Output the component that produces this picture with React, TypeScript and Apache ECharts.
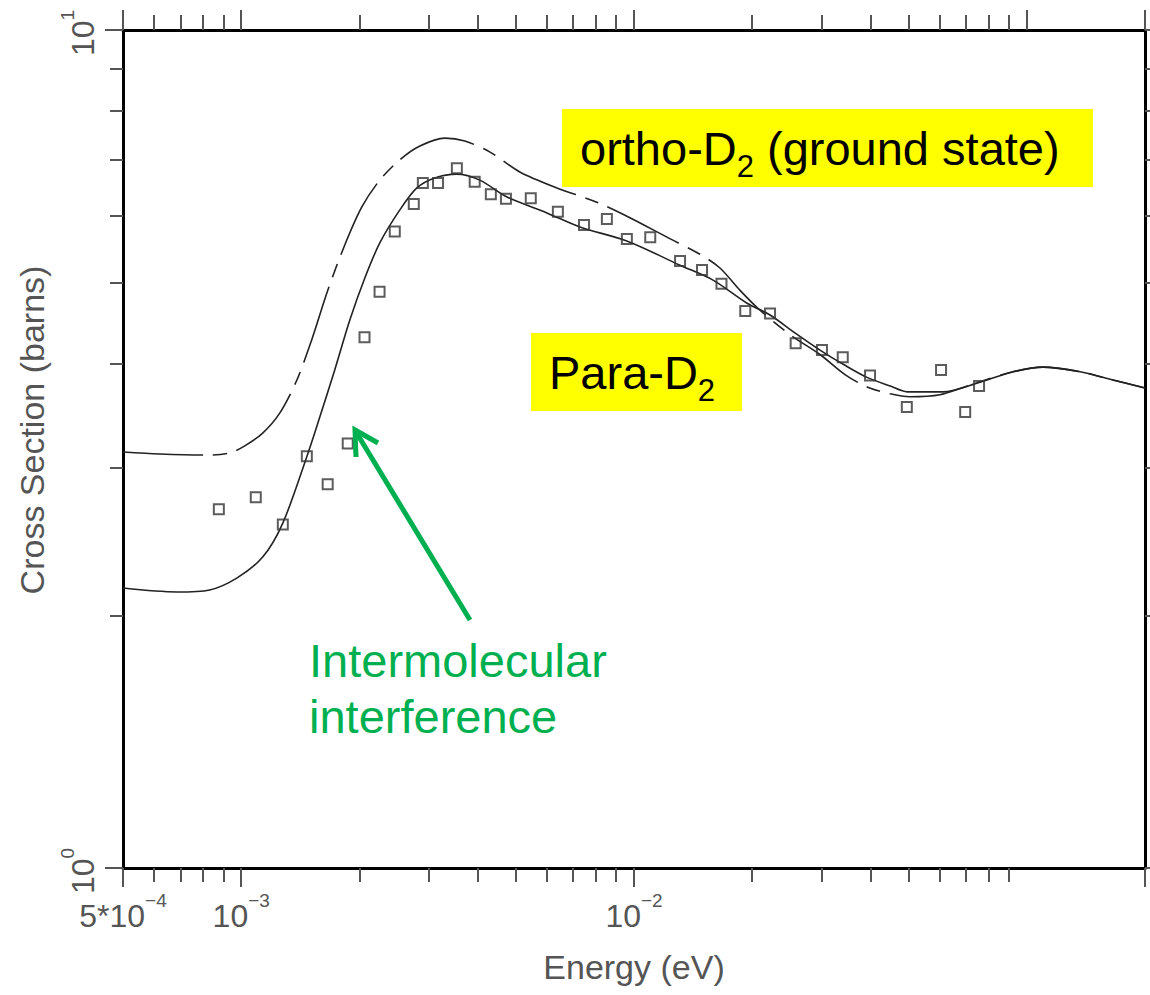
import React, { useEffect, useRef } from "react";
import * as echarts from "echarts";

// ---- axis ticks / labels ----
const xMajorTicks = [5e-4, 1e-3, 1e-2, 1e-1, 0.2];
const xMinorTicks = [6e-4, 7e-4, 8e-4, 9e-4, 2e-3, 3e-3, 4e-3, 5e-3, 6e-3, 7e-3, 8e-3, 9e-3, 2e-2, 3e-2, 4e-2, 5e-2, 6e-2, 7e-2, 8e-2, 9e-2];
const xLabelValues = [5e-4, 1e-3, 1e-2, 1e-1];
const xLabelBase = ["5*10", "10", "10", "10"];
const xLabelExp = ["\u22124", "\u22123", "\u22122", "\u22121"];
const yMajorTicks = [1, 10];
const yMinorTicks = [2, 3, 4, 5, 6, 7, 8, 9];
const yLabelValues = [1, 10];
const yLabelBase = ["10", "10"];
const yLabelExp = ["0", "1"];

// ---- experimental points (open squares) ----
const expEnergy = [8.77e-4, 1.089e-3, 1.276e-3, 1.469e-3, 1.66e-3, 1.867e-3, 2.06e-3, 2.25e-3, 2.46e-3, 2.75e-3, 2.9e-3, 3.17e-3, 3.54e-3, 3.93e-3, 4.32e-3, 4.72e-3, 5.46e-3, 6.4e-3, 7.46e-3, 8.53e-3, 9.59e-3, 1.1e-2, 1.31e-2, 1.49e-2, 1.67e-2, 1.92e-2, 2.22e-2, 2.58e-2, 3.01e-2, 3.4e-2, 3.99e-2, 4.95e-2, 6.05e-2, 6.97e-2, 7.56e-2];
const expSigma = [2.68, 2.77, 2.57, 3.1, 2.87, 3.21, 4.3, 4.87, 5.75, 6.2, 6.57, 6.57, 6.84, 6.59, 6.37, 6.29, 6.3, 6.07, 5.85, 5.95, 5.63, 5.66, 5.3, 5.17, 4.98, 4.62, 4.59, 4.23, 4.15, 4.07, 3.87, 3.55, 3.93, 3.5, 3.76];

// ---- solid curve ----
const solidEnergy = [5.0e-4, 6.85e-4, 8.31e-4, 9.74e-4, 1.134e-3, 1.276e-3, 1.468e-3, 1.585e-3, 1.73e-3, 1.89e-3, 2.064e-3, 2.253e-3, 2.534e-3, 2.8e-3, 3.11e-3, 3.54e-3, 4.05e-3, 4.75e-3, 6.0e-3, 7.28e-3, 9.59e-3, 1.309e-2, 1.589e-2, 1.94e-2, 2.22e-2, 2.57e-2, 2.975e-2, 3.445e-2, 3.92e-2, 4.49e-2, 4.96e-2, 6.12e-2, 7.6e-2, 9.23e-2, 0.11, 0.1367, 0.163, 0.2];
const solidSigma = [2.158, 2.135, 2.147, 2.218, 2.35, 2.58, 3.094, 3.453, 3.93, 4.508, 5.06, 5.57, 6.1, 6.48, 6.66, 6.73, 6.62, 6.32, 6.05, 5.82, 5.6, 5.24, 5.03, 4.72, 4.57, 4.35, 4.15, 3.98, 3.85, 3.76, 3.7, 3.7, 3.8, 3.91, 3.96, 3.91, 3.83, 3.74];

// ---- dashed curve ----
const dashEnergy = [5.0e-4, 6.2e-4, 8.17e-4, 9.35e-4, 1.021e-3, 1.134e-3, 1.253e-3, 1.385e-3, 1.512e-3, 1.661e-3, 1.835e-3, 2.028e-3, 2.253e-3, 2.534e-3, 2.85e-3, 3.3e-3, 3.71e-3, 4.3e-3, 5.12e-3, 6.36e-3, 8.04e-3, 9.76e-3, 1.213e-2, 1.472e-2, 1.655e-2, 1.862e-2, 2.093e-2, 2.495e-2, 2.975e-2, 3.445e-2, 3.92e-2, 4.49e-2, 5.04e-2, 6.01e-2, 7.17e-2, 9.23e-2, 0.11, 0.1367, 0.163, 0.2];
const dashSigma = [3.136, 3.119, 3.11, 3.128, 3.19, 3.304, 3.49, 3.82, 4.27, 4.89, 5.54, 6.15, 6.62, 7.0, 7.27, 7.43, 7.37, 7.15, 6.77, 6.48, 6.23, 5.97, 5.66, 5.4, 5.2, 4.89, 4.63, 4.33, 4.1, 3.88, 3.75, 3.68, 3.65, 3.67, 3.77, 3.91, 3.96, 3.91, 3.83, 3.74];

const AXIS_FONT = "'Liberation Sans', Arial, Helvetica, sans-serif";
const ANNO_FONT = "'Liberation Sans', Arial, Helvetica, sans-serif";
const AXIS_TEXT = "#555";
const TICK_COLOR = "#555";
const GREEN = "#00B050";

const zip = (a: number[], b: number[]) => a.map((v, i) => [v, b[i]]);
const findIdx = (vals: number[], v: number) =>
  vals.findIndex((t) => Math.abs(Math.log10(t) - Math.log10(v)) < 1e-6);

const xLabelRich = {
  b: { fontSize: 32, lineHeight: 52, fontFamily: AXIS_FONT, color: AXIS_TEXT },
  s: { fontSize: 19, height: 20, lineHeight: 20, verticalAlign: "top", fontFamily: AXIS_FONT, color: AXIS_TEXT },
};
const yLabelRich = {
  b: { fontSize: 32, lineHeight: 52, fontFamily: AXIS_FONT, color: AXIS_TEXT },
  s: { fontSize: 19, height: 20, lineHeight: 20, verticalAlign: "top", padding: [0, 6, 0, 0], fontFamily: AXIS_FONT, color: AXIS_TEXT },
};

const xFmt = (v: number) => {
  const i = findIdx(xLabelValues, v);
  if (i < 0) return "";
  return `{b|${xLabelBase[i]}}{s|${xLabelExp[i]}}`;
};
const yFmt = (v: number) => {
  const i = findIdx(yLabelValues, v);
  if (i < 0) return "";
  return `{b|${yLabelBase[i]}}{s|${yLabelExp[i]}}`;
};

const xBase = {
  type: "log",
  logBase: 10,
  min: 5e-4,
  max: 0.2,
  splitLine: { show: false },
  minorTick: { show: false },
};
const yBase = {
  type: "log",
  logBase: 10,
  min: 1,
  max: 10,
  splitLine: { show: false },
  minorTick: { show: false },
};
const frameLine = { show: true, onZero: false, lineStyle: { color: "#000", width: 3 } };
const tick = (vals: number[], len: number) => ({
  show: true,
  inside: false,
  customValues: vals,
  length: len,
  lineStyle: { color: TICK_COLOR, width: 2 },
});

const subRich = {
  a: { fontSize: 47, lineHeight: 52, fontFamily: ANNO_FONT, fill: "#000", color: "#000" },
  s: { fontSize: 31, height: 16, lineHeight: 16, verticalAlign: "bottom", fontFamily: ANNO_FONT, fill: "#000", color: "#000" },
};

export default function App() {
  const ref = useRef<HTMLDivElement>(null);
  useEffect(() => {
    document.body.style.margin = "0";
    const chart = echarts.init(ref.current!, null, { renderer: "svg", width: 1150, height: 995 });
    const option: any = {
      animation: false,
      backgroundColor: "#fff",
      grid: { left: 123, right: 5, top: 30, bottom: 127, containLabel: false },
      xAxis: [
        {
          ...xBase,
          position: "bottom",
          axisLine: frameLine,
          axisTick: tick(xMajorTicks, 19),
          axisLabel: { show: true, customValues: xLabelValues, formatter: xFmt, margin: 22, rich: xLabelRich, showMinLabel: true, showMaxLabel: false },
          name: "Energy (eV)",
          nameLocation: "middle",
          nameGap: 82,
          nameTextStyle: { fontFamily: AXIS_FONT, fontSize: 34, color: AXIS_TEXT },
        },
        { ...xBase, position: "bottom", axisLine: { show: false }, axisTick: tick(xMinorTicks, 14), axisLabel: { show: false } },
        { ...xBase, position: "top", axisLine: frameLine, axisTick: tick(xMajorTicks, 20), axisLabel: { show: false } },
        { ...xBase, position: "top", axisLine: { show: false }, axisTick: tick(xMinorTicks, 15), axisLabel: { show: false } },
      ],
      yAxis: [
        {
          ...yBase,
          position: "left",
          axisLine: frameLine,
          axisTick: tick(yMajorTicks, 18),
          axisLabel: { show: true, customValues: yLabelValues, formatter: yFmt, rotate: 90, margin: 14, rich: yLabelRich },
          name: "Cross Section (barns)",
          nameLocation: "middle",
          nameGap: 74,
          nameRotate: 90,
          nameTextStyle: { fontFamily: AXIS_FONT, fontSize: 34, color: AXIS_TEXT, padding: [0, 0, 0, 38] },
        },
        { ...yBase, position: "left", axisLine: { show: false }, axisTick: tick(yMinorTicks, 13), axisLabel: { show: false } },
        { ...yBase, position: "right", axisLine: frameLine, axisTick: tick(yMajorTicks, 18), axisLabel: { show: false } },
        { ...yBase, position: "right", axisLine: { show: false }, axisTick: tick(yMinorTicks, 13), axisLabel: { show: false } },
      ],
      series: [
        {
          name: "solid",
          type: "line",
          xAxisIndex: 0,
          yAxisIndex: 0,
          data: zip(solidEnergy, solidSigma),
          symbol: "none",
          smooth: 0.3,
          lineStyle: { color: "#222", width: 1.6 },
          silent: true,
        },
        {
          name: "dashed",
          type: "line",
          xAxisIndex: 0,
          yAxisIndex: 0,
          data: zip(dashEnergy, dashSigma),
          symbol: "none",
          smooth: 0.3,
          lineStyle: { color: "#222", width: 1.6, type: [80, 10, 14, 10] },
          silent: true,
        },
        {
          name: "data",
          type: "scatter",
          xAxisIndex: 0,
          yAxisIndex: 0,
          data: zip(expEnergy, expSigma),
          symbol: "rect",
          symbolSize: 10,
          itemStyle: { color: "rgba(0,0,0,0)", borderColor: "#333", borderWidth: 2 },
          silent: true,
          z: 3,
        },
      ],
      graphic: [
        { type: "rect", shape: { x: 562, y: 109, width: 531, height: 78 }, style: { fill: "#FFFF00" }, z: 10 },
        {
          type: "text",
          x: 580,
          y: 148,
          z: 11,
          style: { text: "{a|ortho-D}{s|2}{a| (ground state)}", align: "left", verticalAlign: "middle", rich: subRich },
        },
        { type: "rect", shape: { x: 531, y: 333, width: 211, height: 78 }, style: { fill: "#FFFF00" }, z: 10 },
        {
          type: "text",
          x: 549,
          y: 372,
          z: 11,
          style: { text: "{a|Para-D}{s|2}", align: "left", verticalAlign: "middle", rich: subRich },
        },
        {
          type: "text",
          x: 309,
          y: 660,
          z: 11,
          style: { text: "Intermolecular", fontSize: 47, fontFamily: ANNO_FONT, fill: GREEN, align: "left", verticalAlign: "middle" },
        },
        {
          type: "text",
          x: 309,
          y: 716,
          z: 11,
          style: { text: "interference", fontSize: 47, fontFamily: ANNO_FONT, fill: GREEN, align: "left", verticalAlign: "middle" },
        },
        {
          type: "line",
          z: 11,
          shape: { x1: 470, y1: 620, x2: 356, y2: 432 },
          style: { stroke: GREEN, lineWidth: 5 },
        },
        {
          type: "polyline",
          z: 11,
          shape: { points: [[356, 457], [355, 430], [378, 443]] },
          style: { stroke: GREEN, lineWidth: 5, fill: null, lineJoin: "miter" },
        },
      ],
    };
    chart.setOption(option);
    return () => chart.dispose();
  }, []);
  return <div ref={ref} style={{ position: "absolute", left: 0, top: 0, width: 1150, height: 995 }} />;
}
